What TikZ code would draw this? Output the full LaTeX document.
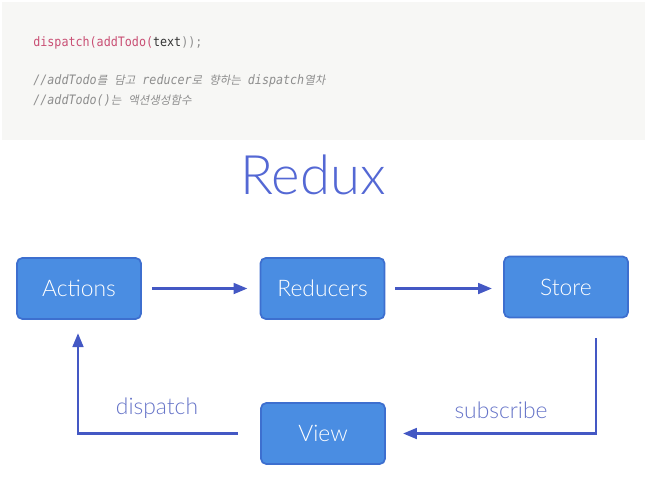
\documentclass[tikz,border=0pt]{standalone}
\usepackage{fontspec}
\usepackage{tikz}
\usetikzlibrary{arrows.meta}
\newfontfamily\uifont{Lato Light}
\newfontfamily\codefont[FakeStretch=0.9]{DejaVu Sans Mono}
\newfontfamily\krfont[FakeSlant=0.2,Scale=0.88]{Noto Sans CJK KR}
\newcommand{\kr}[1]{{\krfont #1}}
\definecolor{codebg}{HTML}{F7F7F5}
\definecolor{codered}{HTML}{C94F74}
\definecolor{codegray}{HTML}{8E8E8E}
\definecolor{boxfill}{HTML}{4A8DE2}
\definecolor{boxline}{HTML}{3D6FCF}
\definecolor{arrowblue}{HTML}{4458C4}
\definecolor{titleblue}{HTML}{5468D4}
\definecolor{labelblue}{HTML}{6674C8}
\tikzset{
  reduxbox/.style={draw=boxline, line width=1pt, fill=boxfill, rounded corners=3pt,
    minimum width=2.48cm, minimum height=1.22cm, text=white,
    font=\uifont\fontsize{13}{15}\selectfont},
  flow/.style={arrowblue, line width=1.7pt, -{Triangle[length=8pt,width=6pt]}},
  flowlabel/.style={text=labelblue, font=\uifont\fontsize{13}{15}\selectfont},
  codetext/.style={anchor=base west, inner sep=0pt, font=\codefont\fontsize{7.4}{9}\selectfont}
}

\begin{document}
\begin{tikzpicture}[x=0.02cm,y=-0.02cm]
\useasboundingbox (0,0) rectangle (650,488);
\fill[codebg] (2,2) rectangle (645,140); % code block

\node[codetext] (codeline) at (33,46) {{\color{codered}dispatch(addTodo(}{\color{black!80}text}{\color{codegray}));}};
\node[codetext, text=codegray, font=\codefont\itshape\fontsize{7.4}{9}\selectfont] (comment1) at (33,84) {//addTodo\kr{를} \kr{담고} reducer\kr{로} \kr{향하는} dispatch\kr{열차}};
\node[codetext, text=codegray, font=\codefont\itshape\fontsize{7.4}{9}\selectfont] (comment2) at (33,104) {//addTodo()\kr{는} \kr{액션생성함수}};

\node[text=titleblue, font=\uifont\fontsize{31}{35}\selectfont] (title) at (313,175) {Redux};

\node[reduxbox] (actions) at (79,288.5) {Actions};
\node[reduxbox] (reducers) at (322.5,288.5) {Reducers};
\node[reduxbox] (store) at (566,287) {Store};
\node[reduxbox] (view) at (323,433.5) {View};

\coordinate (subtop) at (596,338);
\coordinate (dispatchtop) at (78,333);

\draw[flow, shorten <=0.2cm, shorten >=0.24cm] (actions) -- (reducers);
\draw[flow, shorten <=0.2cm, shorten >=0.22cm] (reducers.east) -- (reducers.east -| store.west);
\draw[flow, shorten >=0.34cm] (subtop) |- (view.east); % subscribe
\draw[flow, shorten <=0.44cm] (view.west) -| (dispatchtop); % dispatch

\node[flowlabel] (dispatchlabel) at (157,408) {dispatch};
\node[flowlabel] (subscribelabel) at (501,410) {subscribe};
\end{tikzpicture}
\end{document}
